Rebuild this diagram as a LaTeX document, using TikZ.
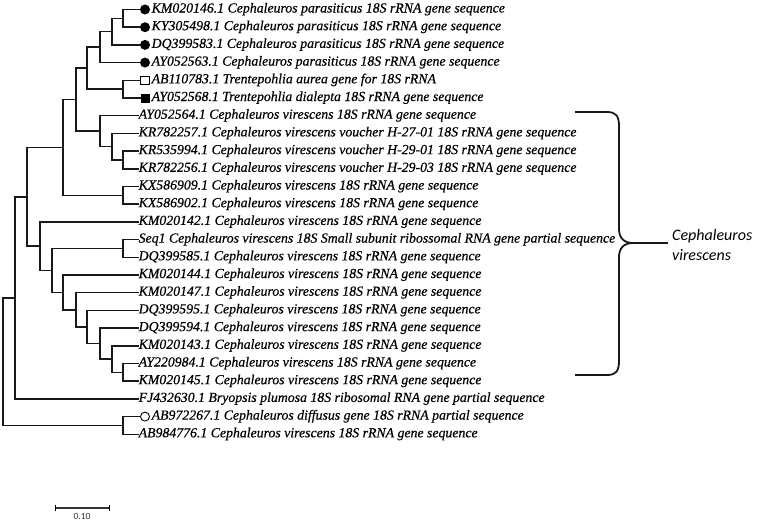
\documentclass[tikz,border=0pt]{standalone}
\usepackage{fontspec}
\usetikzlibrary{calc}
\setmainfont{Liberation Serif}
\newfontfamily\leaffont[FakeBold=0.5]{Liberation Serif}
\newfontfamily\cladefont{Carlito}
\tikzset{
  tree/.style={line width=1.5pt, draw=black!90, line cap=rect},
  leaf/.style={anchor=west, inner sep=0.5pt, font=\leaffont\fontsize{13.8}{15}\selectfont\itshape, text height=8.5pt, text depth=2.5pt},
  dot/.style={circle, fill=black, minimum size=10pt, inner sep=0pt},
  odot/.style={circle, draw=black, line width=0.9pt, minimum size=9pt, inner sep=0pt},
  fsq/.style={rectangle, fill=black, minimum size=9pt, inner sep=0pt},
  osq/.style={rectangle, draw=black, line width=0.8pt, minimum size=8.5pt, inner sep=0pt},
  bracestyle/.style={line width=1.8pt, draw=black!90},
}
\begin{document}
\begin{tikzpicture}[x=1pt, y=-1pt]
\useasboundingbox (0,0) rectangle (764,525);
% ---- markers and leaf labels
\node[dot]  (m1) at (145,9.5) {};
\node[leaf] (l1) at (151,9.5) {KM020146.1 Cephaleuros parasiticus 18S rRNA gene sequence};
\node[dot]  (m2) at (145,27.2) {};
\node[leaf] (l2) at (151,27.2) {KY305498.1 Cephaleuros parasiticus 18S rRNA gene sequence};
\node[dot]  (m3) at (145,44.9) {};
\node[leaf] (l3) at (151,44.9) {DQ399583.1 Cephaleuros parasiticus 18S rRNA gene sequence};
\node[dot]  (m4) at (145,62.6) {};
\node[leaf] (l4) at (151,62.6) {AY052563.1 Cephaleuros parasiticus 18S rRNA gene sequence};
\node[osq]  (m5) at (145,80.3) {};
\node[leaf] (l5) at (151,80.3) {AB110783.1 Trentepohlia aurea gene for 18S rRNA};
\node[fsq]  (m6) at (145,98.0) {};
\node[leaf] (l6) at (151,98.0) {AY052568.1 Trentepohlia dialepta 18S rRNA gene sequence};
\node[leaf] (l7) at (138,115.7) {AY052564.1 Cephaleuros virescens 18S rRNA gene sequence};
\node[leaf] (l8) at (138,133.4) {KR782257.1 Cephaleuros virescens voucher H-27-01 18S rRNA gene sequence};
\node[leaf] (l9) at (138,151.1) {KR535994.1 Cephaleuros virescens voucher H-29-01 18S rRNA gene sequence};
\node[leaf] (l10) at (138,168.8) {KR782256.1 Cephaleuros virescens voucher H-29-03 18S rRNA gene sequence};
\node[leaf] (l11) at (138,186.5) {KX586909.1 Cephaleuros virescens 18S rRNA gene sequence};
\node[leaf] (l12) at (138,204.2) {KX586902.1 Cephaleuros virescens 18S rRNA gene sequence};
\node[leaf] (l13) at (138,221.9) {KM020142.1 Cephaleuros virescens 18S rRNA gene sequence};
\node[leaf] (l14) at (138,239.6) {Seq1 Cephaleuros virescens 18S Small subunit ribossomal RNA gene partial sequence};
\node[leaf] (l15) at (138,257.3) {DQ399585.1 Cephaleuros virescens 18S rRNA gene sequence};
\node[leaf] (l16) at (138,275.0) {KM020144.1 Cephaleuros virescens 18S rRNA gene sequence};
\node[leaf] (l17) at (138,292.7) {KM020147.1 Cephaleuros virescens 18S rRNA gene sequence};
\node[leaf] (l18) at (138,310.4) {DQ399595.1 Cephaleuros virescens 18S rRNA gene sequence};
\node[leaf] (l19) at (138,328.1) {DQ399594.1 Cephaleuros virescens 18S rRNA gene sequence};
\node[leaf] (l20) at (138,345.8) {KM020143.1 Cephaleuros virescens 18S rRNA gene sequence};
\node[leaf] (l21) at (138,363.5) {AY220984.1 Cephaleuros virescens 18S rRNA gene sequence};
\node[leaf] (l22) at (138,381.2) {KM020145.1 Cephaleuros virescens 18S rRNA gene sequence};
\node[leaf] (l23) at (138,398.9) {FJ432630.1 Bryopsis plumosa 18S ribosomal RNA gene partial sequence};
\node[odot] (m24) at (145,416.6) {};
\node[leaf] (l24) at (151,416.6) {AB972267.1 Cephaleuros diffusus gene 18S rRNA partial sequence};
\node[leaf] (l25) at (138,434.3) {AB984776.1 Cephaleuros virescens 18S rRNA gene sequence};
% ---- internal nodes
\coordinate (a1) at (123,18.35);
\coordinate (a2) at (112,31.6);
\coordinate (a3) at (100,47.1);
\coordinate (b1) at (123,89.15);
\coordinate (a4) at (87,68.1);
\coordinate (c1) at (123,159.95);
\coordinate (c2) at (112,146.7);
\coordinate (c3) at (100,131.2);
\coordinate (a5) at (76,99.65);
\coordinate (d1) at (123,195.35);
\coordinate (a6) at (63,147.5);
\coordinate (e1) at (123,248.45);
\coordinate (f1) at (123,372.35);
\coordinate (f2) at (112,359.1);
\coordinate (f3) at (100,343.6);
\coordinate (f4) at (87,327.0);
\coordinate (f5) at (76,309.85);
\coordinate (f6) at (63,292.4);
\coordinate (f7) at (52,270.4);
\coordinate (f8) at (40,246.15);
\coordinate (g1) at (27,196.8);
\coordinate (g2) at (15,297.85);
\coordinate (h1) at (123,425.45);
\coordinate (root) at (3,361.65);
% ---- branches
\draw[tree] (a1) |- (m1.west) (a1) |- (m2.west);
\draw[tree] (a2) |- (a1) (a2) |- (m3.west);
\draw[tree] (a3) |- (a2) (a3) |- (m4.west);
\draw[tree] (b1) |- (m5.west) (b1) |- (m6.west);
\draw[tree] (a4) |- (a3) (a4) |- (b1);
\draw[tree] (c1) |- (l9.west) (c1) |- (l10.west);
\draw[tree] (c2) |- (l8.west) (c2) |- (c1);
\draw[tree] (c3) |- (l7.west) (c3) |- (c2);
\draw[tree] (a5) |- (a4) (a5) |- (c3);
\draw[tree] (d1) |- (l11.west) (d1) |- (l12.west);
\draw[tree] (a6) |- (a5) (a6) |- (d1);
\draw[tree] (e1) |- (l14.west) (e1) |- (l15.west);
\draw[tree] (f1) |- (l21.west) (f1) |- (l22.west);
\draw[tree] (f2) |- (l20.west) (f2) |- (f1);
\draw[tree] (f3) |- (l19.west) (f3) |- (f2);
\draw[tree] (f4) |- (l18.west) (f4) |- (f3);
\draw[tree] (f5) |- (l17.west) (f5) |- (f4);
\draw[tree] (f6) |- (l16.west) (f6) |- (f5);
\draw[tree] (f7) |- (e1) (f7) |- (f6);
\draw[tree] (f8) |- (l13.west) (f8) |- (f7);
\draw[tree] (g1) |- (a6) (g1) |- (f8);
\draw[tree] (g2) |- (g1) (g2) |- (l23.west);
\draw[tree] (h1) |- (m24.west) (h1) |- (l25.west);
\draw[tree] (root) |- (g2) (root) |- (h1);
% ---- brace and clade label
\coordinate (btop) at (575,112);
\coordinate (bbot) at (575,375);
\coordinate (btip) at (633,243);
\node[anchor=west, align=left, inner sep=4pt, font=\cladefont\fontsize{16}{20}\selectfont\itshape] (clade) at (668,245) {Cephaleuros\\virescens};
\draw[bracestyle] (btop) -- (607,112) .. controls (616,112) and (619,116) .. (619,126) -- (619,229) .. controls (619,238) and (624,243) .. (btip) .. controls (624,243) and (619,248) .. (619,257) -- (619,361) .. controls (619,371) and (616,375) .. (607,375) -- (bbot);
\draw[bracestyle] (btip) -- (clade.west |- btip);
% ---- scale bar
\coordinate (s1) at (55,508);
\coordinate (s2) at (109,508);
\draw[line width=1.2pt, draw=black!80] (s1) -- (s2);
\draw[line width=1pt] ($(s1)+(0,-3)$) -- ($(s1)+(0,3)$);
\draw[line width=1pt] ($(s2)+(0,-3)$) -- ($(s2)+(0,3)$);
\node[font=\cladefont\fontsize{9.5}{10}\selectfont, text=black!80, inner sep=0pt] (sl) at (82,516.5) {0.10};
\end{tikzpicture}
\end{document}
